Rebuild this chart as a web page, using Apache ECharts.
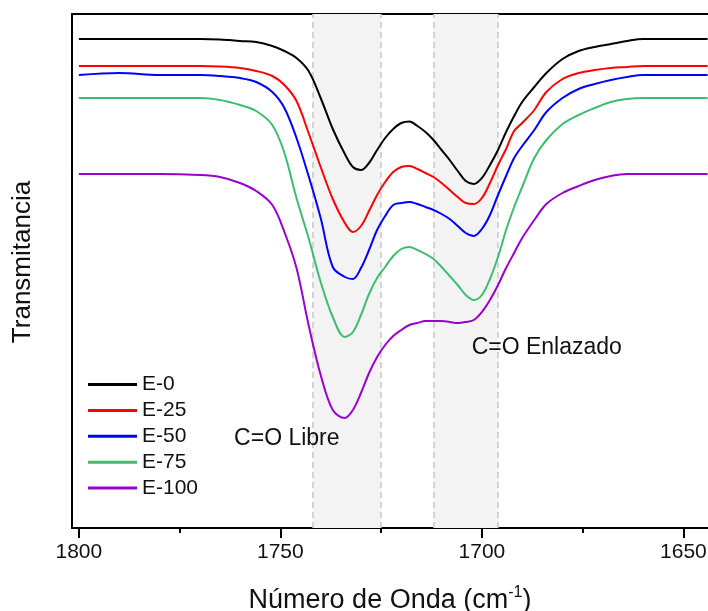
<!DOCTYPE html>
<html>
<head>
<meta charset="utf-8">
<script src="https://cdn.jsdelivr.net/npm/echarts@6/dist/echarts.min.js"></script>
<style>
html,body{margin:0;padding:0;background:#fff;}
#chart{width:708px;height:611px;}
</style>
</head>
<body>
<div id="chart"></div>
<script>
// Wavenumber grid (cm-1)
const wavenumber = [1800,1790,1780,1770,1765,1760,1756,1752,1749,1746,1743,1740,1737,1734,1732,1730,1728,1726,1724,1722,1720,1718,1716,1714,1712,1710,1708,1706,1704,1702,1700,1698,1696,1694,1692,1690,1687,1684,1680,1676,1672,1668,1664,1660,1655,1650,1644];
// Transmittance (arbitrary units, stacked offsets as in the figure)
const e0   = [489,489,489,489,488.5,487,486,482,477,470,457,430,399,374,361,358,365,378,390,399,405,406.5,402,396,388,378,368,357,347,344,350,363,378,396,412,426,441,455,469,477,481,484,487,489,489,489,489];
const e25  = [462,462,462,462,461.5,460,457,452,443,427,395,361,329,305,296,302,317,333,346,356,361,362,359,355,351,345,338,331,325,324,330,345,363,379,397,405,418,436,449,455,458,460,461,462,462,462,462];
const e50  = [453,455,453,453,452,450,446,436,420,390,352,310,261,251,249,260,278,298,312,323,325,326,324,321,318,314,309,302,295,292,299,313,333,352,370,382,398,416,430,439,444,448,451,453,453,453,453];
const e75  = [430,430,430,430,428,423,417,403,375,330,290,246,211,191,196,213,234,250,261,272,279,281,278,274,269,261,252,243,233,228,233,249,271,298,321,341,370,388,404,413,420,426,429,430,430,430,430];
const e100 = [354,354,354,353,351,345,337,323,296,260,203,153,118,110,118,135,155,171,183,192,198,203,205,207,207,207,206,205,206,208,216,228,243,260,275,290,308,324,335,342,348,352,354,354,354,354,354];

const seriesNames = ['E-0','E-25','E-50','E-75','E-100'];
const seriesValues = [e0, e25, e50, e75, e100];
const seriesColors = ['#000000','#ff0000','#0000ff','#3dbd6e','#9900cc'];

// Shaded bands (cm-1)
const bandStarts = [1742, 1712];
const bandEnds   = [1725, 1696];

// Tick values
const majorTicks = [1800, 1750, 1700, 1650];
const minorTicks = [1775, 1725, 1675];

// Annotations (data coordinates)
const annoText = ['C=O Libre', 'C=O Enlazado'];
const annoX = [1748.4, 1683.9];
const annoY = [89, 180];

const FONT = '"Liberation Sans", Arial, sans-serif';
const chart = echarts.init(document.getElementById('chart'), null, {renderer: 'canvas'});

const xRange = {min: 1643.9, max: 1801.7};

const series = seriesNames.map((name, k) => {
  const s = {
    name: name,
    type: 'line',
    xAxisIndex: 0,
    yAxisIndex: 0,
    symbol: 'none',
    smooth: 0.35,
    lineStyle: {color: seriesColors[k], width: 2},
    itemStyle: {color: seriesColors[k]},
    z: 3,
    data: wavenumber.map((w, i) => [w, seriesValues[k][i]])
  };
  if (k === 0) {
    s.markArea = {
      silent: true,
      z: 1,
      itemStyle: {color: '#f3f3f3'},
      data: bandStarts.map((b, i) => [{xAxis: b}, {xAxis: bandEnds[i]}])
    };
    s.markLine = {
      silent: true,
      z: 1,
      symbol: 'none',
      label: {show: false},
      lineStyle: {color: '#c8c8c8', type: [6, 4], width: 1.5},
      data: bandStarts.concat(bandEnds).map(v => ({xAxis: v}))
    };
  }
  return s;
});

chart.setOption({
  animation: false,
  backgroundColor: '#ffffff',
  textStyle: {fontFamily: FONT},
  grid: {left: 72, right: 0, top: 14, bottom: 83, containLabel: false, outerBoundsMode: 'none'},
  legend: {
    orient: 'vertical',
    left: 83,
    top: 369,
    itemWidth: 49,
    itemHeight: 3,
    itemGap: 4.9,
    icon: 'rect',
    data: seriesNames.map((n, k) => ({name: n, itemStyle: {color: seriesColors[k]}})),
    textStyle: {fontSize: 21, color: '#111', fontFamily: FONT, lineHeight: 21}
  },
  xAxis: [
    {
      type: 'value',
      position: 'bottom',
      inverse: true,
      min: xRange.min,
      max: xRange.max,
      name: 'Número de Onda (cm{sup|-1})',
      nameLocation: 'middle',
      nameGap: 57,
      nameTextStyle: {
        fontSize: 27, color: '#111', fontFamily: FONT,
        rich: {sup: {fontSize: 16, color: '#111', fontFamily: FONT, padding: [0, 0, 15, 0]}}
      },
      axisLine: {show: true, onZero: false, lineStyle: {color: '#000', width: 2}},
      axisTick: {show: true, customValues: majorTicks, length: 10, lineStyle: {color: '#000', width: 2}},
      axisLabel: {show: true, customValues: majorTicks, fontSize: 21, color: '#111', margin: 14, fontFamily: FONT,
        formatter: v => String(v)},
      splitLine: {show: false}
    },
    {
      type: 'value',
      position: 'bottom',
      inverse: true,
      min: xRange.min,
      max: xRange.max,
      axisLine: {show: false, onZero: false},
      axisTick: {show: true, customValues: minorTicks, length: 5, lineStyle: {color: '#000', width: 2}},
      axisLabel: {show: false},
      splitLine: {show: false}
    },
    {
      type: 'value',
      position: 'top',
      inverse: true,
      min: xRange.min,
      max: xRange.max,
      axisLine: {show: true, onZero: false, lineStyle: {color: '#000', width: 2}},
      axisTick: {show: false},
      axisLabel: {show: false},
      splitLine: {show: false}
    }
  ],
  yAxis: {
    type: 'value',
    position: 'left',
    min: 0,
    max: 514,
    name: 'Transmitancia',
    nameLocation: 'middle',
    nameGap: 36,
    nameTextStyle: {fontSize: 26, color: '#111', fontFamily: FONT, padding: [0, 0, 0, 18]},
    axisLine: {show: true, onZero: false, lineStyle: {color: '#000', width: 2}},
    axisTick: {show: false},
    axisLabel: {show: false},
    splitLine: {show: false}
  },
  series: series
});

chart.setOption({
  graphic: annoText.map((t, i) => {
    const p = chart.convertToPixel({seriesIndex: 0}, [annoX[i], annoY[i]]);
    return {
      type: 'text',
      x: p[0],
      y: p[1],
      z: 10,
      style: {text: t, fontSize: 23, fontFamily: FONT, fill: '#111', align: 'center', verticalAlign: 'middle'}
    };
  })
});
</script>
</body>
</html>
